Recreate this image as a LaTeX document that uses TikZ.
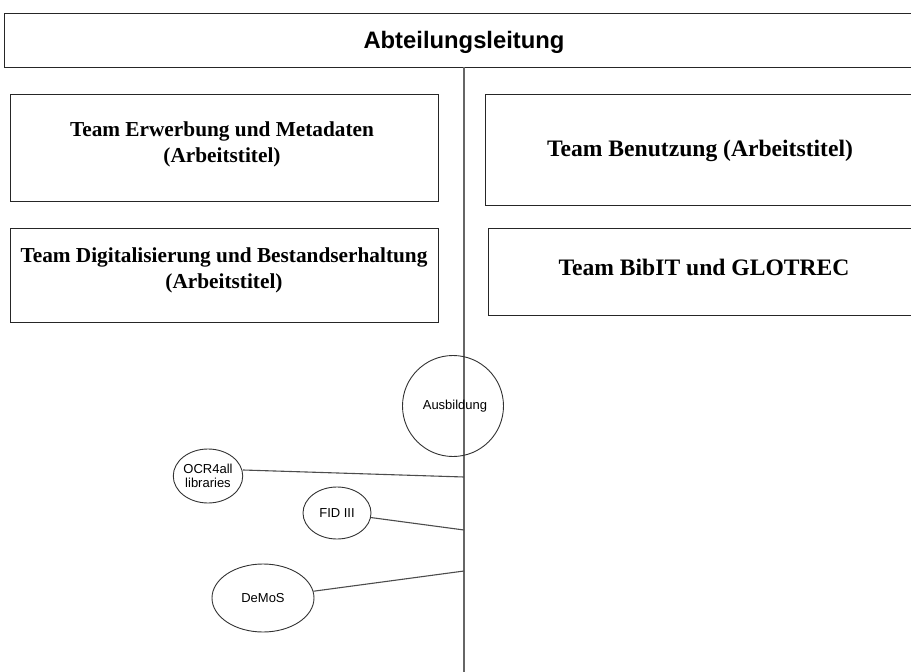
\documentclass[tikz,border=0pt]{standalone}
\usepackage{fontspec}
\setmainfont{Liberation Serif}
\setsansfont{Liberation Sans}
\usetikzlibrary{shapes.geometric}
\begin{document}
\begin{tikzpicture}[x=1pt,y=-1pt,
  teambox/.style={draw=black!85, line width=1.3pt, rectangle, anchor=north west, inner sep=0pt},
  teamtext/.style={font=\fontsize{21.3}{26}\selectfont\bfseries, align=center},
  bigteam/.style={font=\fontsize{23.6}{28}\selectfont\bfseries, align=center},
  proj/.style={draw=black!80, line width=0.9pt, ellipse, inner sep=0pt, font=\sffamily\fontsize{13}{14}\selectfont, align=center},
  link/.style={draw=black!70, line width=1.1pt},
  axis/.style={draw=black!60, line width=1.3pt}]
\clip (0,0) rectangle (911,672);
\useasboundingbox (0,0) rectangle (911,672);
% top
\node[teambox, minimum width=920pt, minimum height=54pt] (head) at (4,13) {};
\node[font=\sffamily\bfseries\fontsize{23.8}{26}\selectfont] (headt) at (464,42) {Abteilungsleitung};
% vertical axis
\coordinate (vtop) at (464,67);
\coordinate (vbot) at (464,672);
\draw[axis] (vtop) -- (vbot);
% team boxes
\node[teambox, minimum width=428pt, minimum height=107pt] (t1) at (10,94) {};
\node[teamtext] at (222,144) {Team Erwerbung und Metadaten\\(Arbeitstitel)};
\node[teambox, minimum width=440pt, minimum height=111pt] (t2) at (485,94) {};
\node[bigteam] at (700,151) {Team Benutzung (Arbeitstitel)};
\node[teambox, minimum width=428pt, minimum height=94pt] (t3) at (10,228) {};
\node[teamtext] at (224,270.5) {Team Digitalisierung und Bestandserhaltung\\(Arbeitstitel)};
\node[teambox, minimum width=440pt, minimum height=87pt] (t4) at (488,228) {};
\node[bigteam] at (704,267) {Team BibIT und GLOTREC};
% projects
\node[proj, circle, minimum size=101pt] (ausb) at (453,406) {};
\node[font=\sffamily\fontsize{13}{14}\selectfont] at (455,406) {Ausbildung};
\node[proj, minimum width=66pt, minimum height=54pt] (ocr) at (208,476) {OCR4all\\libraries};
\node[proj, minimum width=68pt, minimum height=52pt] (fid) at (337,513) {FID III};
\node[proj, minimum width=102pt, minimum height=68pt] (demos) at (263,598) {DeMoS};
\coordinate (pocr) at (464,477);
\coordinate (pfid) at (464,530);
\coordinate (pdem) at (464,571);
\draw[link] (ocr.east) ++(0,-6) -- (pocr);
\draw[link] (fid) -- (pfid);
\draw[link] (demos) -- (pdem);
\end{tikzpicture}
\end{document}
